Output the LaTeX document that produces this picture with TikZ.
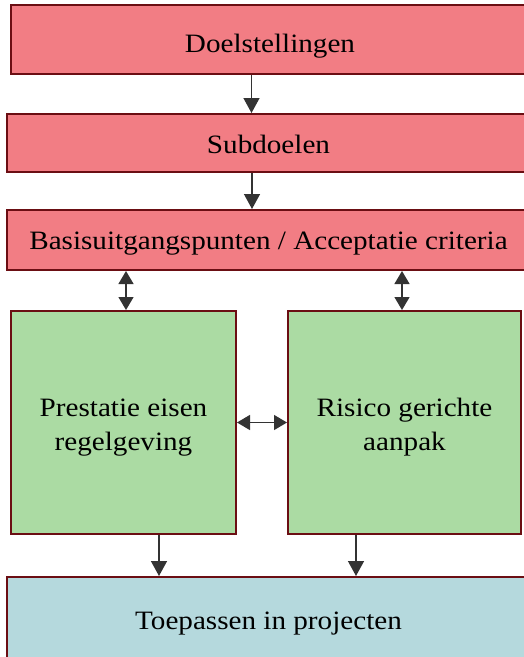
\documentclass[tikz,border=0pt]{standalone}
\usepackage{fontspec}
\setmainfont[FakeStretch=1.1]{Liberation Serif}
\usetikzlibrary{arrows.meta}

\definecolor{rand}{HTML}{6B0E13}
\definecolor{rood}{HTML}{F27D84}
\definecolor{groen}{HTML}{ABDBA3}
\definecolor{blauw}{HTML}{B5D9DD}
\definecolor{pijl}{HTML}{333333}

\begin{document}
\begin{tikzpicture}[x=1pt, y=-1pt,
    blok/.style={draw=rand, line width=2pt, rectangle, inner sep=0pt, align=center,
      text height=20pt, text depth=0pt, font=\fontsize{26.5}{34}\selectfont},
    pijl/.style={draw=pijl, line width=1.4pt, -{Triangle[length=15pt,width=16pt]}},
    dpijl/.style={draw=pijl, line width=1.4pt, {Triangle[length=13pt,width=15pt]}-{Triangle[length=13pt,width=15pt]}}]
  \useasboundingbox (0,0) rectangle (523,657);
  \node[blok, fill=rood, minimum width=519pt, minimum height=69pt, text height=25pt] (doel) at (270,39.5) {Doelstellingen};
  \node[blok, fill=rood, minimum width=523pt, minimum height=58pt] (sub) at (268.5,143) {Subdoelen};
  \node[blok, fill=rood, minimum width=523pt, minimum height=60pt, text height=18pt] (basis) at (268.5,240) {Basisuitgangspunten / Acceptatie criteria};
  \node[blok, fill=groen, minimum width=225pt, minimum height=223pt, text height=55pt] (links) at (123.5,422.5) {Prestatie eisen\\regelgeving};
  \node[blok, fill=groen, minimum width=233pt, minimum height=223pt, text height=55pt] (rechts) at (404.5,422.5) {Risico gerichte\\aanpak};
  \node[blok, fill=blauw, minimum width=523pt, minimum height=86pt, text height=18pt] (toep) at (268.5,620) {Toepassen in projecten};
  \draw[pijl] ([xshift=242pt]doel.south west) -- ([xshift=242pt]doel.south west |- sub.north);
  \draw[pijl] ([xshift=246pt]sub.south west) -- ([xshift=246pt]sub.south west |- basis.north);
  \draw[dpijl] ([xshift=116pt]links.north west |- basis.south) -- ([xshift=116pt]links.north west);
  \draw[dpijl] ([xshift=115pt]rechts.north west |- basis.south) -- ([xshift=115pt]rechts.north west);
  \draw[dpijl] (links.east) -- (rechts.west);
  \draw[pijl] ([xshift=149pt]links.south west) -- ([xshift=149pt]links.south west |- toep.north);
  \draw[pijl] ([xshift=69pt]rechts.south west) -- ([xshift=69pt]rechts.south west |- toep.north);
\end{tikzpicture}
\end{document}
